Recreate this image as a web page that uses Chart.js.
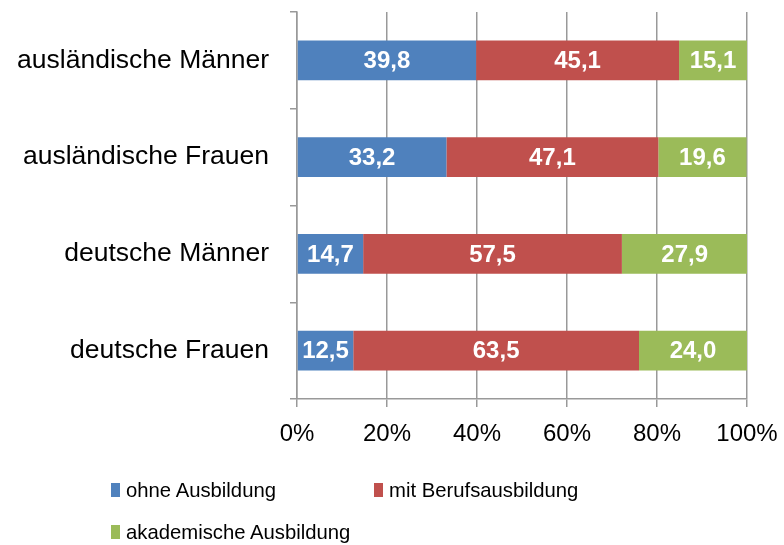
<!DOCTYPE html>
<html>
<head>
<meta charset="utf-8">
<script src="https://cdn.jsdelivr.net/npm/chart.js@4/dist/chart.umd.min.js"></script>
<style>
  html, body { margin: 0; padding: 0; background: #fff; }
  #wrap { position: relative; width: 784px; height: 545px; }
  #legend { position: absolute; left: 0; top: 0; width: 784px; height: 545px; pointer-events: none;
            font-family: "Liberation Sans", Arial, sans-serif; font-size: 20.3px; color: #000; }
  .li { position: absolute; display: flex; align-items: center; white-space: nowrap; }
  .sw { display: inline-block; width: 9px; height: 14px; margin-right: 6px; }
</style>
</head>
<body>
<div id="wrap">
  <canvas id="c" width="784" height="545"></canvas>
  <div id="legend"></div>
</div>
<script>
const categories = ["ausländische Männer", "ausländische Frauen", "deutsche Männer", "deutsche Frauen"];
const seriesNames = ["ohne Ausbildung", "mit Berufsausbildung", "akademische Ausbildung"];
const ohneAusbildung = [39.8, 33.2, 14.7, 12.5];
const mitBerufsausbildung = [45.1, 47.1, 57.5, 63.5];
const akademischeAusbildung = [15.1, 19.6, 27.9, 24.0];
const tickValues = [0, 20, 40, 60, 80, 100];
const colors = ["#4F81BD", "#C0504D", "#9BBB59"];

const FONT = '"Liberation Sans", Arial, sans-serif';

const labelPlugin = {
  id: 'segLabels',
  afterDatasetsDraw(chart) {
    const ctx = chart.ctx;
    ctx.save();
    ctx.font = 'bold 24px ' + FONT;
    ctx.fillStyle = '#fff';
    ctx.textAlign = 'center';
    ctx.textBaseline = 'middle';
    chart.data.datasets.forEach((ds, di) => {
      const meta = chart.getDatasetMeta(di);
      meta.data.forEach((el, i) => {
        const p = el.getCenterPoint();
        ctx.fillText(ds.data[i].toFixed(1).replace('.', ','), p.x, p.y + 1);
      });
    });
    ctx.restore();
  }
};

const seriesData = [ohneAusbildung, mitBerufsausbildung, akademischeAusbildung];

new Chart(document.getElementById('c'), {
  type: 'bar',
  data: {
    labels: categories,
    datasets: seriesNames.map((n, k) => ({
      label: n,
      data: seriesData[k],
      backgroundColor: colors[k],
      borderWidth: 0,
      barPercentage: 0.41,
      categoryPercentage: 1.0
    }))
  },
  options: {
    indexAxis: 'y',
    responsive: false,
    animation: false,
    events: [],
    layout: { padding: { top: 12, right: 37, left: 0, bottom: 0 } },
    plugins: { legend: { display: false }, tooltip: { enabled: false } },
    scales: {
      x: {
        stacked: true,
        min: 0, max: 100,
        afterBuildTicks(scale) { scale.ticks = tickValues.map(v => ({ value: v })); },
        afterFit(scale) { scale.height = 545 - 399; scale.paddingLeft = 0; scale.paddingRight = 0; },
        ticks: {
          font: { family: FONT, size: 24 },
          color: '#000',
          padding: 13,
          maxRotation: 0,
          callback: v => v + '%'
        },
        grid: { color: '#999', lineWidth: 1.5, tickLength: 8, drawOnChartArea: true },
        border: { color: '#999', width: 1.5 }
      },
      y: {
        stacked: true,
        afterFit(scale) { scale.width = 297; scale.paddingTop = 0; scale.paddingBottom = 0; },
        ticks: {
          font: { family: FONT, size: 26.5 },
          color: '#000',
          padding: 21
        },
        grid: { offset: true, drawOnChartArea: false, tickLength: 7, color: '#999', lineWidth: 1.5 },
        border: { color: '#999', width: 1.5 }
      }
    }
  },
  plugins: [labelPlugin]
});

// HTML legend built from series names
const legendPos = [[111, 490], [374, 490], [111, 532]];
const lg = document.getElementById('legend');
seriesNames.forEach((n, k) => {
  const d = document.createElement('div');
  d.className = 'li';
  d.style.left = legendPos[k][0] + 'px';
  d.style.top = (legendPos[k][1] - 13) + 'px';
  d.style.height = '26px';
  const s = document.createElement('span');
  s.className = 'sw';
  s.style.background = colors[k];
  d.appendChild(s);
  d.appendChild(document.createTextNode(n));
  lg.appendChild(d);
});
</script>
</body>
</html>
